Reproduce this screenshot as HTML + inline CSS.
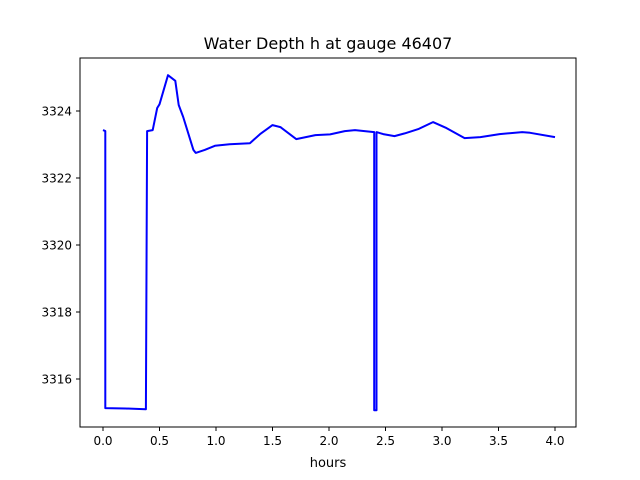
<!DOCTYPE html>
<html><head><meta charset="utf-8"><style>
body{margin:0;background:#fff}
svg{display:block;font-family:"DejaVu Sans","Liberation Sans",sans-serif}
</style></head><body>
<svg id="chart" width="640" height="480">
<rect width="640" height="480" fill="#fff"/>
<text x="328" y="49" text-anchor="middle" font-size="16">Water Depth h at gauge 46407</text>
<g id="axes"></g>
<path id="line" fill="none" stroke="#0000ff" stroke-width="2" stroke-linejoin="round"/>
<rect x="80" y="58" width="496" height="369" fill="none" stroke="#000" stroke-width="1"/>
<text x="328" y="467" text-anchor="middle" font-size="13">hours</text>
</svg>
<script>
const hours=[0,0.02,0.02,0.2,0.38,0.39,0.44,0.48,0.5,0.575,0.64,0.67,0.71,0.8,0.82,0.9,0.99,1.12,1.3,1.39,1.5,1.57,1.71,1.88,2.01,2.14,2.23,2.4,2.4,2.42,2.42,2.48,2.58,2.67,2.79,2.92,3.04,3.2,3.34,3.51,3.71,3.78,4.0];
const depth=[3323.43,3323.4,3315.13,3315.12,3315.1,3323.4,3323.43,3324.09,3324.2,3325.07,3324.9,3324.18,3323.82,3322.84,3322.75,3322.84,3322.96,3323.01,3323.04,3323.31,3323.58,3323.52,3323.16,3323.28,3323.3,3323.4,3323.43,3323.37,3315.07,3315.07,3323.37,3323.31,3323.25,3323.33,3323.46,3323.67,3323.49,3323.19,3323.22,3323.31,3323.37,3323.35,3323.22];
const xTicks=[0,0.5,1,1.5,2,2.5,3,3.5,4];
const xTickLabels=["0.0","0.5","1.0","1.5","2.0","2.5","3.0","3.5","4.0"];
const yTicks=[3316,3318,3320,3322,3324];
const yTickLabels=["3316","3318","3320","3322","3324"];
const X=h=>103+113*h;
const Y=v=>379-33.5*(v-3316);
const NS="http://www.w3.org/2000/svg";
const ax=document.getElementById('axes');
xTicks.forEach((t,i)=>{
 const l=document.createElementNS(NS,'line');
 l.setAttribute('x1',X(t));l.setAttribute('x2',X(t));l.setAttribute('y1',427);l.setAttribute('y2',431);l.setAttribute('stroke','#000');
 
 
 ax.appendChild(l);
 const tx=document.createElementNS(NS,'text');
 tx.setAttribute('x',X(t));tx.setAttribute('y',445);tx.setAttribute('text-anchor','middle');tx.setAttribute('font-size','12');
 tx.textContent=xTickLabels[i];
 
 
 ax.appendChild(tx);
});
yTicks.forEach((t,i)=>{
 const l=document.createElementNS(NS,'line');
 l.setAttribute('x1',76);l.setAttribute('x2',80);l.setAttribute('y1',Y(t));l.setAttribute('y2',Y(t));l.setAttribute('stroke','#000');
 
 
 ax.appendChild(l);
 const tx=document.createElementNS(NS,'text');
 tx.setAttribute('x',72);tx.setAttribute('y',Y(t)+4.5);tx.setAttribute('text-anchor','end');tx.setAttribute('font-size','12');
 tx.textContent=yTickLabels[i];
 
 
 ax.appendChild(tx);
});
document.getElementById('line').setAttribute('d',hours.map((h,i)=>(i?'L':'M')+X(h).toFixed(1)+','+Y(depth[i]).toFixed(1)).join(' '));
</script>
</body></html>
